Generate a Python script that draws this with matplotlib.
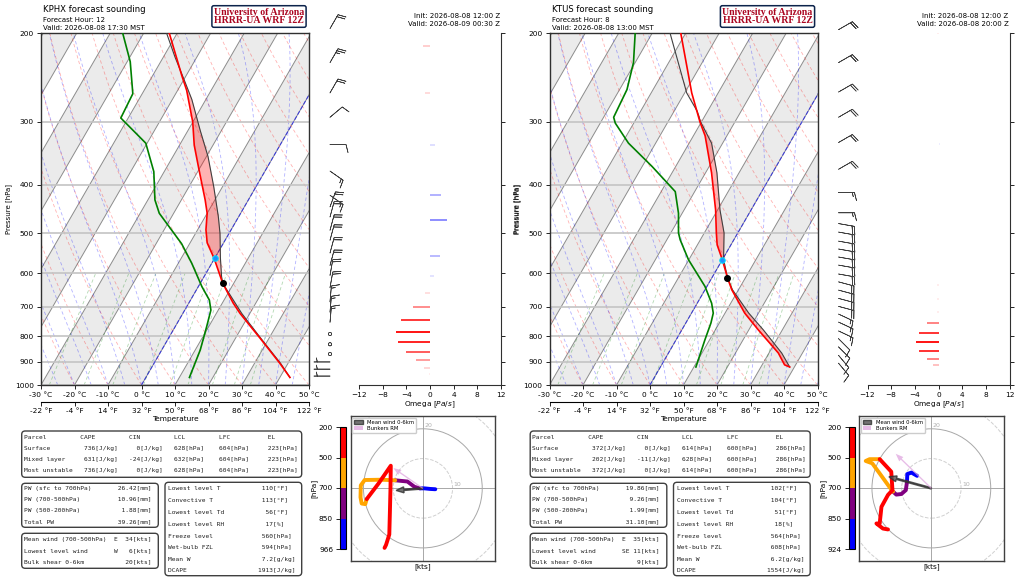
import numpy as np
import matplotlib
matplotlib.use("Agg")
import matplotlib.pyplot as plt
from matplotlib.patches import FancyBboxPatch, Patch, Circle
from matplotlib.colors import ListedColormap, BoundaryNorm
from matplotlib.colorbar import ColorbarBase
from matplotlib.ticker import NullLocator

W, H = 1024, 578
SKEW = 37.7          # x shift (deg C) per unit ln(1000/p)
MONO = "DejaVu Sans Mono"
P_TICKS = [200, 300, 400, 500, 600, 700, 800, 900, 1000]
C_TICKS = [-30, -20, -10, 0, 10, 20, 30, 40, 50]
F_TICKS = [-22, -4, 14, 32, 50, 68, 86, 104, 122]
MOIST_T0 = np.arange(-40, 51, 5)
DRY_T0 = np.arange(-30, 201, 10)
MIX_W = [0.0004, 0.001, 0.002, 0.004, 0.007, 0.01, 0.016, 0.024, 0.032]
LAYER_COLORS = ["blue", "purple", "orange", "red"]

# ---------------- KPHX (left) ----------------
phx_title = ["KPHX forecast sounding", "Forecast Hour: 12", "Valid: 2026-08-08 17:30 MST"]
phx_init = ["Init: 2026-08-08 12:00 Z", "Valid: 2026-08-09 00:30 Z"]
phx_t_p = [966, 906, 808, 721, 688, 628, 560, 522, 492, 456, 429, 374, 334, 300, 293, 260, 243, 200]
phx_t = [43.0, 37.6, 27.4, 17.1, 13.3, 6.7, -0.2, -4.9, -7.5, -10.0, -12.9, -19.9, -25.6, -30.1,
         -31.3, -37.3, -41.3, -52.4]
phx_td_p = [966, 852, 766, 710, 678, 638, 573, 524, 456, 429, 377, 331, 295, 264, 228, 200]
phx_td = [13.0, 11.5, 9.4, 7.8, 5.6, 1.1, -6.0, -12.4, -24.3, -27.9, -33.1, -40.4, -52.2, -52.8,
          -59.1, -66.3]
phx_prof_p = [966, 906, 808, 721, 628, 609, 560, 500, 463, 404, 352, 312, 271, 250, 223, 200]
phx_prof = [43.0, 37.8, 27.6, 17.6, 6.7, 5.2, 1.7, -2.7, -6.1, -12.6, -19.5, -26.4, -34.2, -39.3,
            -46.6, -53.2]
phx_lcl = (628, 6.7)
phx_frz = (560, 0.0)
phx_w_p = [212, 263, 333, 420, 471, 554, 607, 657, 701, 744, 785, 822, 859, 894, 927, 951]
phx_w = [-1.2, -0.9, 0.8, 1.9, 2.8, 1.7, 0.7, -0.8, -2.8, -4.9, -5.8, -5.4, -4.0, -2.4, -1.0, -0.2]
phx_barb_p = [196, 229, 263, 294, 333, 376, 420, 443, 464, 493, 516, 547, 579, 606, 641, 684, 717,
              751, 792, 830, 868, 900, 930, 960]
phx_barb_dir = [30, 30, 30, 50, 90, 125, 125, 20, 15, 15, 15, 15, 15, 10, 10, 5, 5, 5, 0, 0, 0,
                270, 270, 270]
phx_barb_spd = [20, 25, 20, 10, 10, 15, 15, 20, 20, 20, 20, 20, 20, 20, 20, 15, 15, 15, 0, 0, 0,
                5, 5, 5]
phx_hodo_p = [966, 930, 900, 850, 800, 760, 700, 660, 620, 590, 560, 530, 510, 500, 450, 400, 350,
              300, 250, 220, 200]
phx_hodo_u = [4.2, 2.5, 0.5, -1.0, -2.8, -5.2, -9.3, -14.0, -19.6, -20.9, -21.0, -20.6, -19.4,
              -18.9, -14.8, -10.8, -10.9, -11.1, -11.3, -12.4, -12.9]
phx_hodo_v = [-0.3, -0.2, 0.0, 0.0, 0.5, 2.3, 2.7, 2.9, 2.8, 1.0, -3.0, -5.1, -5.3, -3.6, 1.8,
              7.6, 0.0, -8.0, -15.5, -19.0, -20.0]
phx_mean_wind = (-9.0, -0.7)
phx_bunkers = (-9.9, 6.8)
phx_cbar_labels = ["966", "850", "700", "500", "200"]
phx_parcels = [("Surface", "736[J/kg]", "0[J/kg]", "628[hPa]", "604[hPa]", "223[hPa]"),
               ("Mixed layer", "631[J/kg]", "-24[J/kg]", "632[hPa]", "604[hPa]", "223[hPa]"),
               ("Most unstable", "736[J/kg]", "0[J/kg]", "628[hPa]", "604[hPa]", "223[hPa]")]
phx_pw = [("PW (sfc to 700hPa)", "26.42[mm]"), ("PW (700-500hPa)", "10.96[mm]"),
          ("PW (500-200hPa)", "1.88[mm]"), ("Total PW", "39.26[mm]")]
phx_wind = [("Mean wind (700-500hPa)", "E", "34[kts]"), ("Lowest level wind", "W", "6[kts]"),
            ("Bulk shear 0-6km", "", "20[kts]")]
phx_misc = [("Lowest level T", "110", "[°F]"), ("Convective T", "113", "[°F]"),
            ("Lowest level Td", "56", "[°F]"), ("Lowest level RH", "17", "[%]"),
            ("Freeze level", "560", "[hPa]"), ("Wet-bulb FZL", "594", "[hPa]"),
            ("Mean W", "7.2", "[g/kg]"), ("DCAPE", "1913", "[J/kg]")]

# ---------------- KTUS (right) ----------------
tus_title = ["KTUS forecast sounding", "Forecast Hour: 8", "Valid: 2026-08-08 13:00 MST"]
tus_init = ["Init: 2026-08-08 12:00 Z", "Valid: 2026-08-08 20:00 Z"]
tus_t_p = [921, 912, 864, 777, 720, 647, 613, 563, 527, 499, 449, 379, 320, 300, 263, 200]
tus_t = [38.6, 36.7, 32.8, 22.8, 15.9, 8.0, 4.7, -0.1, -4.1, -6.4, -10.6, -18.2, -26.5, -30.5,
         -37.9, -51.5]
tus_td_p = [921, 813, 753, 720, 688, 637, 564, 515, 499, 456, 413, 368, 331, 302, 294, 259, 229, 200]
tus_td = [10.6, 8.6, 7.5, 6.5, 4.3, -0.6, -10.1, -16.0, -17.7, -21.1, -25.8, -37.1, -48.1, -55.5,
          -57.0, -57.8, -60.5, -65.1]
tus_prof_p = [921, 864, 777, 720, 647, 613, 563, 499, 449, 379, 331, 300, 286, 263, 200]
tus_prof = [38.6, 33.8, 24.3, 17.1, 8.2, 4.7, 0.3, -4.1, -9.3, -16.6, -23.3, -30.3, -33.1, -39.4,
            -54.7]
tus_lcl = (614, 4.7)
tus_frz = (564, 0.0)
tus_w_p = [200, 332, 634, 676, 717, 752, 787, 822, 855, 886, 911]
tus_w = [-0.3, 0.3, -0.3, -0.3, -0.3, -2.0, -3.3, -3.8, -3.3, -2.0, -1.0]
tus_barb_p = [197, 229, 262, 294, 330, 373, 415, 455, 478, 497, 518, 537, 557, 578, 602, 624, 648,
              673, 698, 723, 750, 781, 809, 840, 873, 905]
tus_barb_dir = [60, 60, 60, 60, 60, 60, 90, 90, 100, 100, 100, 100, 100, 100, 100, 105, 105, 105,
                105, 115, 115, 115, 135, 135, 140, 140]
tus_barb_spd = [20, 20, 20, 20, 20, 20, 15, 15, 20, 20, 20, 20, 20, 20, 20, 20, 20, 20, 20, 15, 15,
                15, 10, 10, 10, 10]
tus_hodo_p = [924, 900, 880, 850, 800, 760, 730, 700, 660, 620, 580, 550, 520, 500, 460, 420, 380,
              340, 300, 260, 230, 200]
tus_hodo_u = [-4.8, -6.7, -8.1, -8.2, -8.6, -10.1, -11.8, -12.9, -14.0, -17.4, -19.9, -22.1, -20.8,
              -17.4, -13.5, -13.1, -14.6, -16.8, -17.4, -18.5, -16.3, -14.6]
tus_hodo_v = [4.2, 5.3, 4.8, 2.2, -0.6, -1.9, -2.1, -1.1, 0.3, 5.0, 8.4, 9.2, 9.8, 9.8, 5.6, -0.6,
              -2.2, -6.2, -11.8, -11.8, -13.5, -13.8]
tus_mean_wind = (-14.3, 3.9)
tus_bunkers = (-12.0, 11.6)
tus_cbar_labels = ["924", "850", "700", "500", "200"]
tus_parcels = [("Surface", "372[J/kg]", "0[J/kg]", "614[hPa]", "600[hPa]", "286[hPa]"),
               ("Mixed layer", "202[J/kg]", "-11[J/kg]", "628[hPa]", "600[hPa]", "286[hPa]"),
               ("Most unstable", "372[J/kg]", "0[J/kg]", "614[hPa]", "600[hPa]", "286[hPa]")]
tus_pw = [("PW (sfc to 700hPa)", "19.86[mm]"), ("PW (700-500hPa)", "9.26[mm]"),
          ("PW (500-200hPa)", "1.99[mm]"), ("Total PW", "31.10[mm]")]
tus_wind = [("Mean wind (700-500hPa)", "E", "35[kts]"), ("Lowest level wind", "SE", "11[kts]"),
            ("Bulk shear 0-6km", "", "9[kts]")]
tus_misc = [("Lowest level T", "102", "[°F]"), ("Convective T", "104", "[°F]"),
            ("Lowest level Td", "51", "[°F]"), ("Lowest level RH", "18", "[%]"),
            ("Freeze level", "564", "[hPa]"), ("Wet-bulb FZL", "608", "[hPa]"),
            ("Mean W", "6.2", "[g/kg]"), ("DCAPE", "1554", "[J/kg]")]


def skx(t, p):
    return np.asarray(t, float) + SKEW * np.log(1000.0 / np.asarray(p, float))


def moist_adiabat(t0, pp):
    Rd, Cp, Lv, eps = 287.04, 1005.7, 2.501e6, 0.622

    def dtdp(T, p):
        es = 6.112 * np.exp(17.67 * (T - 273.15) / (T - 29.65))
        rs = eps * es / (p - es)
        return (Rd * T + Lv * rs) / (Cp + Lv * Lv * rs * eps / (Rd * T * T)) / p

    T = t0 + 273.15
    out = [T]
    for i in range(1, len(pp)):
        dp = pp[i] - pp[i - 1]
        k1 = dtdp(T, pp[i - 1])
        k2 = dtdp(T + k1 * dp, pp[i])
        T = T + 0.5 * (k1 + k2) * dp
        out.append(T)
    return np.array(out) - 273.15


def px_ax(fig, x, y, w, h):
    return fig.add_axes([x / W, 1 - (y + h) / H, w / W, h / H])


def ftext(fig, x, y, s, **kw):
    kw.setdefault("va", "center")
    return fig.text(x / W, 1 - y / H, s, **kw)


def rbox(fig, x, y, w, h):
    fig.add_artist(FancyBboxPatch((x / 100, (H - y - h) / 100), w / 100, h / 100,
                                  boxstyle="round,pad=0,rounding_size=0.035",
                                  transform=fig.dpi_scale_trans, fc="none",
                                  ec="#404040", lw=1.0))


def log_p_axis(ax):
    ax.set_yscale("log")
    ax.set_ylim(1000, 200)
    ax.yaxis.set_minor_locator(NullLocator())
    ax.set_yticks(P_TICKS)


def draw_skewt(fig, x0, tp, t, tdp, td, prp, pr, lcl, frz):
    ax = px_ax(fig, x0 + 41, 33, 268, 352)
    log_p_axis(ax)
    ax.set_yticklabels([str(p) for p in P_TICKS])
    ax.set_xlim(-30, 50)
    pp = np.geomspace(1000, 200, 120)
    for t0 in range(-110, 40, 20):
        ax.fill(skx([t0, t0 + 10, t0 + 10, t0], [1000, 1000, 200, 200]),
                [1000, 1000, 200, 200], color="#ebebeb", lw=0, zorder=0)
    for t0 in range(-120, 51, 10):
        ax.plot(skx([t0, t0], [1000, 200]), [1000, 200], color="#8c8c8c", lw=0.7, zorder=1)
    for th in DRY_T0:
        ax.plot(skx((th + 273.15) * (pp / 1000) ** 0.2857 - 273.15, pp), pp, color="red",
                alpha=0.3, lw=0.6, ls=(0, (4, 3)), zorder=1)
    for t0 in MOIST_T0:
        ax.plot(skx(moist_adiabat(t0, pp), pp), pp, color="blue", alpha=0.3, lw=0.6,
                ls=(0, (4, 3)), zorder=1)
    pm = np.geomspace(1000, 600, 30)
    for w in MIX_W:
        a = np.log(pm * w / (0.622 + w) / 6.112)
        ax.plot(skx(243.5 * a / (17.67 - a), pm), pm, color="green", alpha=0.3, lw=0.6,
                ls=(0, (4, 3)), zorder=1)
    for p in P_TICKS:
        ax.axhline(p, color="#c4c4c4", lw=1.2, zorder=1)
    ax.plot(skx([0, 0], [1000, 200]), [1000, 200], color="blue", alpha=0.6, lw=0.8, ls="--",
            zorder=2)

    # CAPE shading between parcel and environment
    lo = max(tp[0], prp[0])
    pg = np.geomspace(lo, 200, 400)
    te = np.interp(np.log(pg), np.log(tp[::-1]), t[::-1])
    tpar = np.interp(np.log(pg), np.log(prp[::-1]), pr[::-1])
    ax.fill_betweenx(pg, skx(te, pg), skx(tpar, pg), where=tpar > te, interpolate=True,
                     color="red", alpha=0.3, lw=0, zorder=3)
    ax.plot(skx(pr, prp), prp, color="#404040", lw=0.8, zorder=4)
    ax.plot(skx(t, tp), tp, color="red", lw=1.2, zorder=5)
    ax.plot(skx(td, tdp), tdp, color="green", lw=1.2, zorder=5)
    ax.plot(skx(lcl[1], lcl[0]), lcl[0], "o", color="black", ms=4, zorder=6)
    ax.plot(skx(frz[1], frz[0]), frz[0], "o", mfc="#1e90ff", mec="#00e5ff", mew=0.7, ms=4,
            zorder=6)

    ax.set_xticks(C_TICKS)
    ax.set_xticklabels([f"{c} °C" for c in C_TICKS])
    ax.tick_params(labelsize=5.3, length=3, width=0.6, pad=2)
    ax.set_ylabel("Pressure [hPa]", fontsize=5, labelpad=2)
    for sp in ax.spines.values():
        sp.set_linewidth(1.0)
        sp.set_color("#303030")
    sec = ax.secondary_xaxis(-0.047, functions=(lambda c: c * 9 / 5 + 32,
                                                 lambda f: (f - 32) * 5 / 9))
    sec.set_xticks(F_TICKS)
    sec.set_xticklabels([f"{f} °F" for f in F_TICKS])
    sec.tick_params(labelsize=5.3, length=3, width=0.6, pad=2)
    sec.set_xlabel("Temperature", fontsize=5.3, labelpad=1)
    return ax


def draw_barbs(fig, x0, bp, bdir, bspd):
    bx = px_ax(fig, x0 + 320, 33, 20, 352)
    log_p_axis(bx)
    bx.set_xlim(-1, 1)
    bx.axis("off")
    rad = np.deg2rad(bdir)
    u = -np.asarray(bspd) * np.sin(rad)
    v = -np.asarray(bspd) * np.cos(rad)
    bx.barbs(np.zeros(len(bp)), bp, u, v, length=4.8, lw=0.5, color="#404040",
             clip_on=False, sizes=dict(emptybarb=0.1, spacing=0.14, height=0.5))


def draw_omega(fig, x0, wp, w, show_ylabel):
    ox = px_ax(fig, x0 + 359, 33, 142, 352)
    log_p_axis(ox)
    ox.set_yticklabels([])
    ox.set_xlim(-12, 12)
    wmax = max(abs(x) for x in w)
    cols = [(1, 0, 0, max(0.08, abs(x) / wmax)) if x < 0 else (0, 0, 1, max(0.08, abs(x) / wmax))
            for x in w]
    ox.hlines(wp, 0, w, colors=cols, lw=1.3)
    for side in ("left", "top"):
        ox.spines[side].set_visible(False)
    ox.yaxis.tick_right()
    ox.yaxis.set_label_position("right")
    ox.set_xticks(range(-12, 13, 4))
    ox.tick_params(labelsize=5.3, length=3, width=0.6, pad=2)
    ox.set_xlabel(r"Omega [$Pa/s$]", fontsize=5.3, labelpad=1)
    if show_ylabel:
        ox.set_ylabel("Pressure [hPa]", fontsize=5, labelpad=4)
    for sp in ox.spines.values():
        sp.set_color("#303030")


def draw_hodo(fig, x0, hp, hu, hv, mean_wind, bunkers, cbar_labels):
    hx = px_ax(fig, x0 + 350.7, 416, 144.3, 144.7)
    lim = 24.3
    hx.set_xlim(-lim, lim)
    hx.set_ylim(-lim, lim)
    hx.set_xticks([])
    hx.set_yticks([])
    for r, ls, c in ((10, "--", "#d0d0d0"), (20, "-", "#a8a8a8"), (30, "--", "#d0d0d0")):
        hx.add_patch(Circle((0, 0), r, fill=False, ec=c, lw=0.7, ls=ls))
    hx.axhline(0, color="#a8a8a8", lw=0.7)
    hx.axvline(0, color="#a8a8a8", lw=0.7)
    hx.text(10.3, 0.3, "10", color="#b0b0b0", fontsize=4.5, ha="left", va="bottom")
    hx.text(0.4, 20.2, "20", color="#b0b0b0", fontsize=4.5, ha="left", va="bottom")
    hp = np.asarray(hp)
    hu = np.asarray(hu)
    hv = np.asarray(hv)
    bounds = [hp[0], 850, 700, 500, 200]
    for i, c in enumerate(LAYER_COLORS):
        sel = (hp <= bounds[i]) & (hp >= bounds[i + 1])
        hx.plot(hu[sel], hv[sel], color=c, lw=2.8, solid_capstyle="round",
                solid_joinstyle="round", zorder=3)
    hx.arrow(0, 0, mean_wind[0], mean_wind[1], width=0.45, head_width=2.0, head_length=2.6,
             length_includes_head=True, fc="#505050", ec="#303030", alpha=0.8, zorder=4)
    hx.arrow(0, 0, bunkers[0], bunkers[1], width=0.45, head_width=2.0, head_length=2.6,
             length_includes_head=True, fc="plum", ec="none", alpha=0.7, zorder=4)
    hx.legend(handles=[Patch(fc="#505050", ec="#303030", alpha=0.8, label="Mean wind 0-6km"),
                       Patch(fc="plum", alpha=0.7, label="Bunkers RM")],
              loc="upper left", fontsize=3.8, borderpad=0.4, handlelength=1.6,
              handleheight=0.6, labelspacing=0.25, borderaxespad=0.3, framealpha=1)
    hx.set_xlabel("[kts]", fontsize=5.3, labelpad=2)
    for sp in hx.spines.values():
        sp.set_linewidth(1.0)
        sp.set_color("#404040")

    cx = px_ax(fig, x0 + 340, 427, 6, 122)
    cb = ColorbarBase(cx, cmap=ListedColormap(LAYER_COLORS),
                      norm=BoundaryNorm([0, 1, 2, 3, 4], 4), ticks=[0, 1, 2, 3, 4])
    cb.set_ticklabels(cbar_labels)
    cx.yaxis.set_ticks_position("left")
    cx.yaxis.set_label_position("left")
    cx.tick_params(labelsize=5.3, length=3, width=0.6, pad=2)
    cb.set_label("[hPa]", fontsize=5.3, labelpad=1)


def draw_tables(fig, x0, parcels, pw, wind, misc):
    kw = dict(family=MONO, fontsize=4.5, color="#202020")
    rbox(fig, x0 + 21.7, 431, 280, 46.3)
    lines = [f"{'Parcel':<15}{'CAPE':<13}{'CIN':<12}{'LCL':<12}{'LFC':<13}EL"]
    for name, cape, cin, lcl, lfc, el in parcels:
        lines.append(f"{name:<16}{cape:>9}{cin:>12}   {lcl:<12}{lfc:<13}{el}")
    for i, s in enumerate(lines):
        ftext(fig, x0 + 24, 437.3 + i * 11.2, s, **kw)

    rbox(fig, x0 + 21.7, 483.3, 136.6, 44)
    for i, (lab, val) in enumerate(pw):
        ftext(fig, x0 + 24, 488.3 + i * 11.3, f"{lab:<25}{val:>9}", **kw)

    rbox(fig, x0 + 21.7, 533.3, 136.6, 35)
    for i, (lab, d, spd) in enumerate(wind):
        ftext(fig, x0 + 24, 539.3 + i * 11.2, f"{lab:<24}{d:<3}{spd:>7}", **kw)

    rbox(fig, x0 + 165, 482.3, 136.7, 93.4)
    for i, (lab, num, unit) in enumerate(misc):
        ftext(fig, x0 + 168.3, 488.3 + i * 11.8, f"{lab:<22}{num:>6}{unit}", **kw)


def draw_header(fig, x0, title, init):
    ftext(fig, x0 + 43, 9.3, title[0], fontsize=6.1)
    ftext(fig, x0 + 43, 20, title[1], fontsize=5)
    ftext(fig, x0 + 43, 27.7, title[2], fontsize=5)
    ftext(fig, x0 + 259, 16.5, "University of Arizona\nHRRR-UA WRF 12Z", ha="center",
          family="Liberation Serif", weight="bold", fontsize=7.1, color="#AB0520",
          linespacing=0.95,
          bbox=dict(boxstyle="round,pad=0.2", fc="white", ec="#0C234B", lw=1.1))
    ftext(fig, x0 + 500, 15.7, init[0], ha="right", fontsize=5)
    ftext(fig, x0 + 500, 24.3, init[1], ha="right", fontsize=5)


fig = plt.figure(figsize=(W / 100, H / 100), dpi=100)
panels = [
    (0, True, phx_title, phx_init, phx_t_p, phx_t, phx_td_p, phx_td, phx_prof_p, phx_prof,
     phx_lcl, phx_frz, phx_w_p, phx_w, phx_barb_p, phx_barb_dir, phx_barb_spd, phx_hodo_p,
     phx_hodo_u, phx_hodo_v, phx_mean_wind, phx_bunkers, phx_cbar_labels, phx_parcels, phx_pw,
     phx_wind, phx_misc),
    (508.5, False, tus_title, tus_init, tus_t_p, tus_t, tus_td_p, tus_td, tus_prof_p, tus_prof,
     tus_lcl, tus_frz, tus_w_p, tus_w, tus_barb_p, tus_barb_dir, tus_barb_spd, tus_hodo_p,
     tus_hodo_u, tus_hodo_v, tus_mean_wind, tus_bunkers, tus_cbar_labels, tus_parcels, tus_pw,
     tus_wind, tus_misc),
]
for (x0, show_yl, title, init, tp, t, tdp, td, prp, pr, lcl, frz, wp, w, bp, bd, bs, hp, hu, hv,
     mw, bk, cbl, parcels, pw, wind, misc) in panels:
    draw_skewt(fig, x0, np.array(tp, float), np.array(t), np.array(tdp, float), np.array(td),
               np.array(prp, float), np.array(pr), lcl, frz)
    draw_barbs(fig, x0, bp, bd, bs)
    draw_omega(fig, x0, wp, w, show_yl)
    draw_hodo(fig, x0, hp, hu, hv, mw, bk, cbl)
    draw_tables(fig, x0, parcels, pw, wind, misc)
    draw_header(fig, x0, title, init)

fig.savefig("out.png", dpi=100)
